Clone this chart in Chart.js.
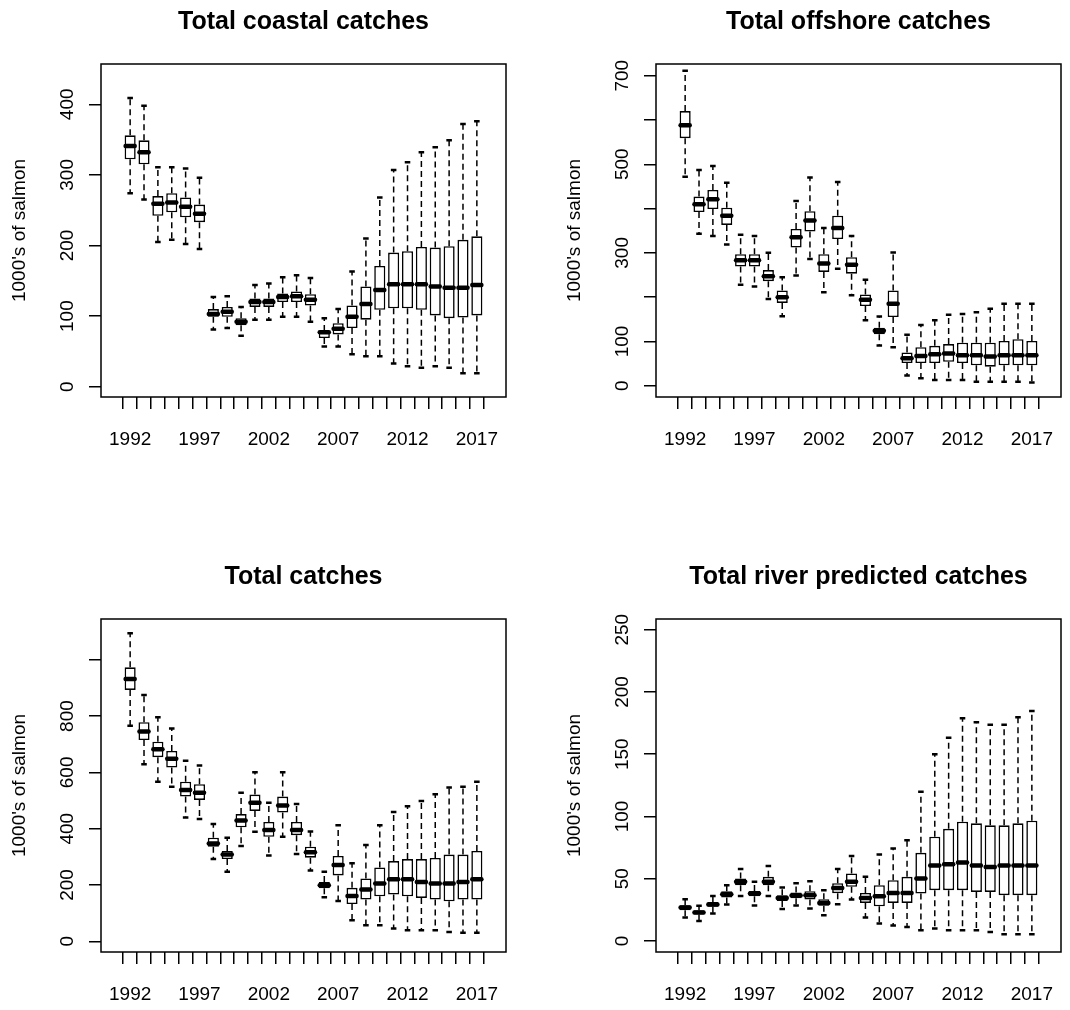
<!DOCTYPE html>
<html>
<head>
<meta charset="utf-8">
<script src="https://cdn.jsdelivr.net/npm/chart.js@4"></script>
<style>
  body { margin: 0; background: #fff; }
  #page { position: relative; width: 1070px; height: 1010px; }
  .panel { position: absolute; width: 515px; height: 455px; }
</style>
</head>
<body>
<div id="page">
  <div class="panel" style="left:0;top:0"><canvas id="coastal" width="515" height="455"></canvas></div>
  <div class="panel" style="left:555px;top:0"><canvas id="offshore" width="515" height="455"></canvas></div>
  <div class="panel" style="left:0;top:555px"><canvas id="total" width="515" height="455"></canvas></div>
  <div class="panel" style="left:555px;top:555px"><canvas id="river" width="515" height="455"></canvas></div>
</div>
<script>
const years = [1992, 1993, 1994, 1995, 1996, 1997, 1998, 1999, 2000, 2001, 2002, 2003, 2004,
  2005, 2006, 2007, 2008, 2009, 2010, 2011, 2012, 2013, 2014, 2015, 2016, 2017];
const xTickLabels = [1992, 1997, 2002, 2007, 2012, 2017];

// Total coastal catches (1000's of salmon)
const coastalMin = [274, 265, 205, 208, 202, 195, 81, 83, 72, 95, 95, 99, 99, 92, 57, 57, 46, 43, 43, 33, 29, 27, 29, 27, 19, 19];
const coastalQ1 = [322, 315, 242, 247, 240, 233, 99, 99, 87, 113, 113, 120, 120, 115, 69, 74, 83, 95, 109, 111, 111, 109, 101, 97, 98, 101];
const coastalMed = [341, 332, 259, 261, 255, 245, 103, 106, 92, 120, 120, 127, 128, 123, 77, 82, 99, 117, 137, 145, 145, 145, 142, 140, 140, 144];
const coastalQ3 = [356, 349, 270, 274, 268, 258, 110, 113, 97, 125, 125, 132, 135, 131, 79, 90, 115, 142, 171, 190, 192, 198, 197, 199, 208, 213];
const coastalMax = [409, 398, 311, 311, 309, 296, 127, 128, 113, 144, 146, 155, 158, 154, 97, 110, 163, 210, 268, 307, 318, 332, 339, 349, 372, 376];
const coastalTicks = [0, 100, 200, 300, 400];
const coastalTickLabels = ["0", "100", "200", "300", "400"];

// Total offshore catches
const offshoreMin = [472, 343, 338, 319, 228, 224, 196, 157, 249, 286, 211, 264, 204, 148, 91, 87, 23, 17, 13, 13, 13, 9, 9, 9, 9, 7];
const offshoreQ1 = [559, 392, 399, 363, 269, 269, 236, 187, 312, 348, 257, 331, 253, 180, 116, 155, 51, 51, 51, 54, 51, 46, 43, 46, 46, 46];
const offshoreMed = [588, 410, 421, 384, 283, 283, 247, 200, 335, 373, 276, 356, 273, 194, 124, 185, 62, 67, 71, 73, 69, 69, 66, 69, 69, 69];
const offshoreQ3 = [620, 427, 442, 402, 297, 297, 261, 215, 354, 394, 297, 384, 290, 206, 131, 215, 75, 87, 90, 94, 97, 97, 97, 101, 105, 101];
const offshoreMax = [711, 487, 496, 458, 341, 338, 300, 245, 417, 470, 356, 460, 338, 239, 156, 301, 115, 137, 148, 160, 162, 166, 174, 185, 185, 185];
const offshoreTicks = [0, 100, 200, 300, 400, 500, 600, 700];
const offshoreTickLabels = ["0", "100", "", "300", "", "500", "", "700"];

// Total catches
const totalMin = [766, 629, 567, 549, 440, 434, 292, 247, 338, 389, 305, 371, 310, 251, 156, 143, 75, 57, 57, 45, 39, 39, 39, 33, 30, 30];
const totalQ1 = [893, 715, 654, 617, 514, 502, 336, 292, 405, 463, 371, 457, 377, 297, 188, 234, 132, 148, 160, 166, 160, 154, 148, 142, 148, 148];
const totalMed = [932, 745, 682, 648, 537, 528, 347, 308, 429, 492, 395, 482, 395, 316, 199, 271, 161, 184, 205, 220, 220, 211, 205, 205, 211, 220];
const totalQ3 = [973, 778, 709, 676, 567, 558, 368, 321, 452, 521, 424, 514, 424, 336, 211, 303, 190, 223, 262, 285, 292, 292, 296, 308, 308, 321];
const totalMax = [1094, 875, 796, 756, 641, 624, 417, 368, 528, 600, 492, 600, 488, 390, 247, 412, 277, 342, 412, 459, 480, 498, 522, 546, 549, 567];
const totalTicks = [0, 200, 400, 600, 800, 1000];
const totalTickLabels = ["0", "200", "400", "600", "800", ""];

// Total river predicted catches
const riverMin = [18.8, 16.1, 22.0, 29.3, 36.2, 28.5, 36.2, 25.7, 28.5, 26.0, 20.7, 29.5, 33.3, 18.8, 14.0, 12.4, 11.3, 8.6, 10.0, 8.6, 8.6, 8.6, 7.2, 5.4, 5.4, 5.4];
const riverQ1 = [24.7, 21.2, 27.4, 34.9, 44.8, 36.0, 44.8, 32.2, 34.4, 33.3, 28.2, 38.4, 43.5, 30.6, 27.9, 30.6, 30.6, 38.1, 40.8, 40.8, 40.8, 39.4, 39.4, 36.8, 36.8, 36.8];
const riverMed = [26.9, 22.9, 29.3, 37.6, 47.5, 38.1, 47.5, 34.6, 36.5, 36.8, 30.6, 42.6, 47.5, 34.6, 36.0, 38.6, 38.6, 50.2, 60.7, 61.7, 63.1, 60.7, 59.5, 60.7, 60.7, 60.7];
const riverQ3 = [28.7, 24.7, 31.4, 40.0, 50.2, 40.2, 51.5, 36.8, 38.9, 40.0, 33.6, 46.4, 54.2, 38.6, 44.8, 48.8, 51.5, 70.8, 83.7, 90.1, 95.8, 94.5, 92.9, 92.9, 94.5, 96.6];
const riverMax = [33.6, 28.2, 36.2, 44.8, 57.9, 47.5, 60.3, 43.0, 46.4, 48.0, 40.8, 57.9, 68.2, 51.5, 69.5, 74.3, 81.0, 119.9, 150.0, 163.3, 178.9, 175.7, 173.6, 173.6, 179.7, 184.8];
const riverTicks = [0, 50, 100, 150, 200, 250];
const riverTickLabels = ["0", "50", "100", "150", "200", "250"];

Chart.defaults.font.family = "'Liberation Sans', Arial, sans-serif";
Chart.defaults.color = "#000";

// whiskers, staples, medians and the plot frame, like R's boxplot()
function boxExtras(stats) {
  return {
    id: "boxExtras",
    beforeDatasetsDraw(chart) {
      let ctx = chart.ctx;
      let x = chart.scales.x;
      let y = chart.scales.y;
      let bars = chart.getDatasetMeta(0).data;
      ctx.save();
      ctx.strokeStyle = "#000";
      for (let i = 0; i < years.length; i++) {
        let px = x.getPixelForValue(years[i]);
        let half = bars[i].width / 4;
        ctx.lineWidth = 1.5;
        ctx.setLineDash([6, 4]);
        ctx.beginPath();
        ctx.moveTo(px, y.getPixelForValue(stats.q3[i]));
        ctx.lineTo(px, y.getPixelForValue(stats.max[i]));
        ctx.moveTo(px, y.getPixelForValue(stats.q1[i]));
        ctx.lineTo(px, y.getPixelForValue(stats.min[i]));
        ctx.stroke();
        ctx.setLineDash([]);
        ctx.lineWidth = 2.5;
        ctx.beginPath();
        ctx.moveTo(px - half, y.getPixelForValue(stats.max[i]));
        ctx.lineTo(px + half, y.getPixelForValue(stats.max[i]));
        ctx.moveTo(px - half, y.getPixelForValue(stats.min[i]));
        ctx.lineTo(px + half, y.getPixelForValue(stats.min[i]));
        ctx.stroke();
      }
      ctx.restore();
    },
    afterDatasetsDraw(chart) {
      let ctx = chart.ctx;
      let x = chart.scales.x;
      let y = chart.scales.y;
      let bars = chart.getDatasetMeta(0).data;
      ctx.save();
      ctx.strokeStyle = "#000";
      ctx.lineWidth = 4.5;
      ctx.lineCap = "round";
      for (let i = 0; i < years.length; i++) {
        let px = x.getPixelForValue(years[i]);
        let half = bars[i].width / 2;
        let py = y.getPixelForValue(stats.med[i]);
        ctx.beginPath();
        ctx.moveTo(px - half + 1, py);
        ctx.lineTo(px + half - 1, py);
        ctx.stroke();
      }
      let a = chart.chartArea;
      ctx.lineWidth = 1.5;
      ctx.lineCap = "butt";
      ctx.strokeRect(a.left, a.top, a.right - a.left, a.bottom - a.top);
      ctx.restore();
    },
  };
}

function makeBoxChart(id, title, stats, yRange, yTicks, yTickLabels) {
  let ctx = document.getElementById(id).getContext("2d");
  return new Chart(ctx, {
    type: "bar",
    data: {
      datasets: [
        {
          data: years.map((yr, i) => ({ x: yr, y: [stats.q1[i], stats.q3[i]] })),
          backgroundColor: "#ffffff",
          borderColor: "#000000",
          borderWidth: 1.6,
          borderSkipped: false,
          categoryPercentage: 1,
          barPercentage: 0.8,
        },
      ],
    },
    options: {
      responsive: false,
      animation: false,
      layout: { padding: { left: 0, right: 9, top: 0, bottom: 0 } },
      plugins: {
        legend: { display: false },
        tooltip: { enabled: false },
        title: {
          display: true,
          text: title,
          fullSize: false,
          color: "#000",
          font: { size: 25, weight: "bold", lineHeight: 1.2 },
          padding: { top: 7, bottom: 27 },
        },
      },
      scales: {
        x: {
          type: "linear",
          min: years[0] - 1.54,
          max: years[years.length - 1] + 1.54,
          afterBuildTicks: (scale) => {
            scale.ticks = years.map((v) => ({ value: v }));
          },
          afterFit: (scale) => {
            scale.height = 58;
            scale.paddingLeft = 0;
            scale.paddingRight = 0;
          },
          grid: {
            drawOnChartArea: false,
            drawTicks: true,
            tickLength: 12,
            color: "#000",
            lineWidth: 1.5,
          },
          border: { display: false },
          ticks: {
            autoSkip: false,
            maxRotation: 0,
            minRotation: 0,
            padding: 19,
            color: "#000",
            font: { size: 19 },
            callback: (v) => (xTickLabels.includes(v) ? String(v) : ""),
          },
        },
        y: {
          type: "linear",
          min: yRange[0],
          max: yRange[1],
          afterBuildTicks: (scale) => {
            scale.ticks = yTicks.map((v) => ({ value: v }));
          },
          afterFit: (scale) => {
            scale.width = 101;
            scale.paddingTop = 0;
            scale.paddingBottom = 0;
          },
          grid: {
            drawOnChartArea: false,
            drawTicks: true,
            tickLength: 12,
            color: "#000",
            lineWidth: 1.5,
          },
          border: { display: false },
          title: {
            display: true,
            text: "1000's of salmon",
            color: "#000",
            font: { size: 19 },
            padding: { top: 8.6, bottom: 0 },
          },
          ticks: {
            autoSkip: false,
            minRotation: 90,
            maxRotation: 90,
            crossAlign: "center",
            padding: 5.5,
            color: "#000",
            font: { size: 19 },
            callback: (v, i) => yTickLabels[i],
          },
        },
      },
    },
    plugins: [boxExtras(stats)],
  });
}

makeBoxChart("coastal", "Total coastal catches",
  { min: coastalMin, q1: coastalQ1, med: coastalMed, q3: coastalQ3, max: coastalMax },
  [-14.6, 457.1], coastalTicks, coastalTickLabels);
makeBoxChart("offshore", "Total offshore catches",
  { min: offshoreMin, q1: offshoreQ1, med: offshoreMed, q3: offshoreQ3, max: offshoreMax },
  [-25.5, 726.4], offshoreTicks, offshoreTickLabels);
makeBoxChart("total", "Total catches",
  { min: totalMin, q1: totalQ1, med: totalMed, q3: totalQ3, max: totalMax },
  [-38.1, 1144.8], totalTicks, totalTickLabels);
makeBoxChart("river", "Total river predicted catches",
  { min: riverMin, q1: riverQ1, med: riverMed, q3: riverQ3, max: riverMax },
  [-8.85, 258.6], riverTicks, riverTickLabels);
</script>
</body>
</html>
